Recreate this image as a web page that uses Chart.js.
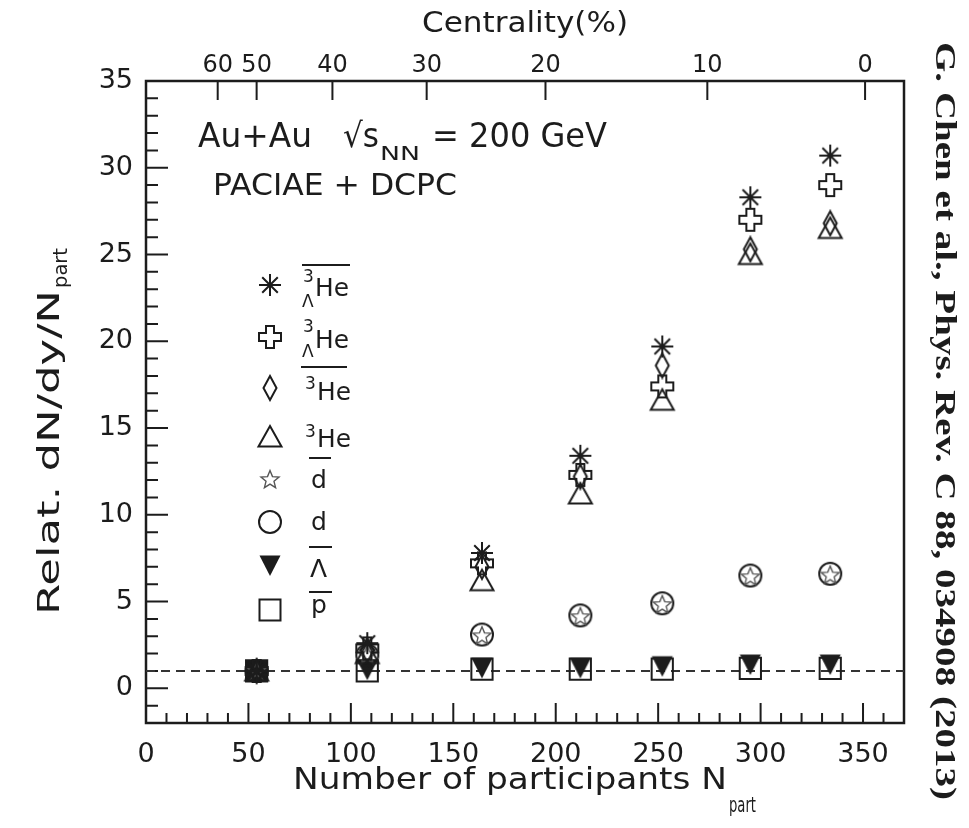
<!DOCTYPE html>
<html>
<head>
<meta charset="utf-8">
<script src="https://cdn.jsdelivr.net/npm/chart.js@4.4.1/dist/chart.umd.min.js"></script>
<style>
  html, body { margin: 0; padding: 0; background: #fff; }
  canvas { display: block; }
</style>
</head>
<body>
<canvas id="chart" width="969" height="828"></canvas>
<script>
// centrality bins, plotted at their mean number of participants
const nPart = [54, 108, 164, 212, 252, 295, 334];

const antiHyperTriton = [1, 2.6, 7.8, 13.4, 19.7, 28.3, 30.7];
const hyperTriton = [1, 2.3, 7.2, 12.3, 17.4, 27.0, 29.0];
const antiHelium3 = [1, 2.2, 7.0, 12.2, 18.6, 25.3, 26.8];
const helium3 = [1, 2.0, 6.2, 11.2, 16.6, 25.0, 26.5];
const antiDeuteron = [1, 1.9, 3.0, 4.1, 4.8, 6.4, 6.5];
const deuteron = [1, 1.9, 3.1, 4.2, 4.9, 6.5, 6.6];
const antiLambda = [1, 1.1, 1.2, 1.2, 1.3, 1.4, 1.4];
const antiProton = [1, 1.0, 1.1, 1.1, 1.1, 1.15, 1.15];

// top axis: centrality (%) and where it sits on the N_part axis
const centralityLabels = ["60", "50", "40", "30", "20", "10", "0"];
const centralityNpart = [35, 54, 91, 137, 195, 274, 351];

const INK = "#1c1c1c";
const FONT = "DejaVu Sans";

function marker(kind) {
  const c = document.createElement("canvas");
  c.width = 28;
  c.height = 28;
  const g = c.getContext("2d");
  g.translate(14, 14);
  g.strokeStyle = INK;
  g.fillStyle = INK;
  g.lineWidth = 2;
  g.lineJoin = "miter";
  g.beginPath();
  if (kind === "asterisk") {
    for (let i = 0; i < 4; i++) {
      const a = i * Math.PI / 4;
      g.moveTo(-11 * Math.cos(a), -11 * Math.sin(a));
      g.lineTo(11 * Math.cos(a), 11 * Math.sin(a));
    }
    g.stroke();
  } else if (kind === "cross") {
    const a = 4, b = 11;
    const pts = [[-a, -b], [a, -b], [a, -a], [b, -a], [b, a], [a, a], [a, b], [-a, b], [-a, a], [-b, a], [-b, -a], [-a, -a]];
    pts.forEach(([x, y], i) => (i ? g.lineTo(x, y) : g.moveTo(x, y)));
    g.closePath();
    g.stroke();
  } else if (kind === "diamond") {
    g.moveTo(0, -12); g.lineTo(6.5, 0); g.lineTo(0, 12); g.lineTo(-6.5, 0);
    g.closePath();
    g.stroke();
  } else if (kind === "triangle") {
    g.moveTo(0, -11); g.lineTo(11.5, 9.5); g.lineTo(-11.5, 9.5);
    g.closePath();
    g.stroke();
  } else if (kind === "star") {
    g.strokeStyle = "#555";
    g.lineWidth = 1.4;
    for (let i = 0; i < 10; i++) {
      const r = i % 2 ? 4.2 : 9.5;
      const a = -Math.PI / 2 + i * Math.PI / 5;
      i ? g.lineTo(r * Math.cos(a), r * Math.sin(a)) : g.moveTo(r * Math.cos(a), r * Math.sin(a));
    }
    g.closePath();
    g.stroke();
  } else if (kind === "circle") {
    g.arc(0, 0, 11, 0, Math.PI * 2);
    g.stroke();
  } else if (kind === "downTriangle") {
    g.moveTo(-10.5, -9.5); g.lineTo(10.5, -9.5); g.lineTo(0, 11);
    g.closePath();
    g.fill();
  } else if (kind === "square") {
    g.rect(-10.5, -10.5, 21, 21);
    g.stroke();
  }
  return c;
}

const series = [
  { name: "antiHyperTriton", values: antiHyperTriton, style: marker("asterisk") },
  { name: "hyperTriton", values: hyperTriton, style: marker("cross") },
  { name: "antiHelium3", values: antiHelium3, style: marker("diamond") },
  { name: "helium3", values: helium3, style: marker("triangle") },
  { name: "antiDeuteron", values: antiDeuteron, style: marker("star") },
  { name: "deuteron", values: deuteron, style: marker("circle") },
  { name: "antiLambda", values: antiLambda, style: marker("downTriangle") },
  { name: "antiProton", values: antiProton, style: marker("square") }
];

function fitText(ctx, text, x, y, width) {
  const w = ctx.measureText(text).width;
  const sx = width ? width / w : 1;
  ctx.save();
  ctx.translate(x, y);
  ctx.scale(sx, 1);
  ctx.textAlign = "left";
  ctx.fillText(text, 0, 0);
  ctx.restore();
}

function overline(ctx, x1, x2, y) {
  ctx.save();
  ctx.lineWidth = 2;
  ctx.strokeStyle = INK;
  ctx.beginPath();
  ctx.moveTo(x1, y);
  ctx.lineTo(x2, y);
  ctx.stroke();
  ctx.restore();
}

function drawLegend(ctx) {
  const rows = [285, 337, 388, 437, 480, 522, 565, 610];
  const mx = 270;
  rows.forEach((y, i) => {
    const img = series[i].style;
    ctx.drawImage(img, mx - img.width / 2, y - img.height / 2);
  });
  ctx.fillStyle = INK;
  ctx.textBaseline = "alphabetic";
  const big = `25px "${FONT}"`;
  const small = `17px "${FONT}"`;

  // anti-hypertriton
  let y = rows[0];
  ctx.font = small;
  fitText(ctx, "3", 303, y - 3);
  fitText(ctx, "Λ", 302, y + 22);
  ctx.font = big;
  fitText(ctx, "He", 315, y + 11, 34);
  overline(ctx, 302, 350, y - 20);

  // hypertriton
  y = rows[1];
  ctx.font = small;
  fitText(ctx, "3", 303, y - 5);
  fitText(ctx, "Λ", 302, y + 20);
  ctx.font = big;
  fitText(ctx, "He", 315, y + 11, 34);

  // anti-helium-3
  y = rows[2];
  ctx.font = small;
  fitText(ctx, "3", 305, y + 1);
  ctx.font = big;
  fitText(ctx, "He", 317, y + 12, 34);
  overline(ctx, 301, 347, y - 21);

  // helium-3
  y = rows[3];
  ctx.font = small;
  fitText(ctx, "3", 305, y);
  ctx.font = big;
  fitText(ctx, "He", 317, y + 10, 34);

  // anti-deuteron, deuteron, anti-lambda, anti-proton
  ctx.font = big;
  fitText(ctx, "d", 311, rows[4] + 8);
  overline(ctx, 309, 331, rows[4] - 22);
  fitText(ctx, "d", 311, rows[5] + 8);
  fitText(ctx, "Λ", 310, rows[6] + 12);
  overline(ctx, 309, 332, rows[6] - 18);
  fitText(ctx, "p", 311, rows[7] + 3);
  overline(ctx, 309, 332, rows[7] - 18);
}

const decorPlugin = {
  id: "decor",
  beforeDatasetsDraw(chart) {
    const { ctx, chartArea: a, scales } = chart;
    ctx.save();
    ctx.strokeStyle = INK;
    ctx.lineWidth = 2;
    ctx.beginPath();
    for (let v = 0; v <= scales.x.max; v += 10) {
      const px = scales.x.getPixelForValue(v);
      const len = v % 50 === 0 ? 20 : 10;
      ctx.moveTo(px, a.bottom);
      ctx.lineTo(px, a.bottom - len);
    }
    for (let v = scales.y.min; v <= scales.y.max; v++) {
      const py = scales.y.getPixelForValue(v);
      const len = v % 5 === 0 ? 22 : 12;
      ctx.moveTo(a.left, py);
      ctx.lineTo(a.left + len, py);
    }
    centralityNpart.forEach(v => {
      const px = scales.x2.getPixelForValue(v);
      ctx.moveTo(px, a.top);
      ctx.lineTo(px, a.top + 19);
    });
    ctx.stroke();
    ctx.lineWidth = 2.5;
    ctx.strokeRect(a.left, a.top, a.right - a.left, a.bottom - a.top);
    ctx.restore();
  },
  afterDraw(chart) {
    const ctx = chart.ctx;
    ctx.save();
    ctx.fillStyle = INK;
    ctx.textBaseline = "alphabetic";

    // top axis title
    ctx.font = `28px "${FONT}"`;
    fitText(ctx, "Centrality(%)", 422, 32, 206);

    // bottom axis title
    ctx.font = `31px "${FONT}"`;
    fitText(ctx, "Number of participants N", 293, 789, 434);
    ctx.font = `21px "${FONT}"`;
    fitText(ctx, "part", 729, 812, 27);

    // left axis title, rotated
    ctx.save();
    ctx.translate(59, 615);
    ctx.rotate(-Math.PI / 2);
    ctx.font = `31px "${FONT}"`;
    fitText(ctx, "Relat. dN/dy/N", 0, 0, 325);
    ctx.font = `19px "${FONT}"`;
    fitText(ctx, "part", 327, 8, 40);
    ctx.restore();

    // reference, rotated down the right edge
    ctx.save();
    ctx.translate(936, 42);
    ctx.rotate(Math.PI / 2);
    ctx.font = `bold 29px "Liberation Serif"`;
    fitText(ctx, "G. Chen et al., Phys. Rev. C 88, 034908 (2013)", 0, 0, 758);
    ctx.restore();

    // collision system and model
    ctx.font = `34px "${FONT}"`;
    fitText(ctx, "Au+Au", 198, 147, 114);
    fitText(ctx, "√s", 343, 147, 36);
    ctx.font = `20px "${FONT}"`;
    fitText(ctx, "NN", 380, 160, 40);
    ctx.font = `34px "${FONT}"`;
    fitText(ctx, "= 200 GeV", 432, 147, 175);
    ctx.font = `30px "${FONT}"`;
    fitText(ctx, "PACIAE + DCPC", 213, 195, 244);

    drawLegend(ctx);
    ctx.restore();
  }
};

const datasets = series.map(s => ({
  label: s.name,
  data: nPart.map((x, i) => ({ x, y: s.values[i] })),
  pointStyle: s.style,
  pointRadius: 11,
  showLine: false
}));

// anti-proton: built-in square; the reference (most peripheral) bin is a solid block
Object.assign(datasets[series.length - 1], {
  pointStyle: "rect",
  pointRadius: 15,
  pointBorderWidth: 2,
  pointBorderColor: INK,
  pointBackgroundColor: nPart.map((_, i) => (i === 0 ? INK : "rgba(0,0,0,0)"))
});

datasets.push({
  label: "unity",
  data: [{ x: 0, y: 1 }, { x: 370, y: 1 }],
  showLine: true,
  borderColor: "#333",
  borderWidth: 2,
  borderDash: [9, 6],
  pointRadius: 0
});

const tickFont = { family: FONT, size: 27 };

new Chart(document.getElementById("chart"), {
  type: "scatter",
  data: { datasets },
  options: {
    responsive: false,
    animation: false,
    layout: { padding: { left: 0, top: 0, right: 65, bottom: 0 } },
    plugins: { legend: { display: false }, tooltip: { enabled: false } },
    scales: {
      x: {
        type: "linear",
        position: "bottom",
        min: 0,
        max: 370,
        grid: { display: false, drawTicks: false },
        border: { display: false },
        ticks: { stepSize: 50, includeBounds: false, padding: 16, color: INK, font: tickFont, maxRotation: 0 },
        afterFit: s => { s.height = 105; }
      },
      x2: {
        type: "linear",
        position: "top",
        min: 0,
        max: 370,
        grid: { display: false, drawTicks: false },
        border: { display: false },
        afterBuildTicks: s => { s.ticks = centralityNpart.map(v => ({ value: v })); },
        ticks: {
          autoSkip: false,
          maxRotation: 0,
          padding: 1,
          color: INK,
          font: { family: FONT, size: 24 },
          callback: (v, i) => centralityLabels[i]
        },
        afterFit: s => { s.height = 81; }
      },
      y: {
        type: "linear",
        min: -2,
        max: 35,
        grid: { display: false, drawTicks: false },
        border: { display: false },
        ticks: { stepSize: 5, includeBounds: false, padding: 13, color: INK, font: tickFont },
        afterFit: s => { s.width = 146; }
      }
    }
  },
  plugins: [decorPlugin]
});
</script>
</body>
</html>
